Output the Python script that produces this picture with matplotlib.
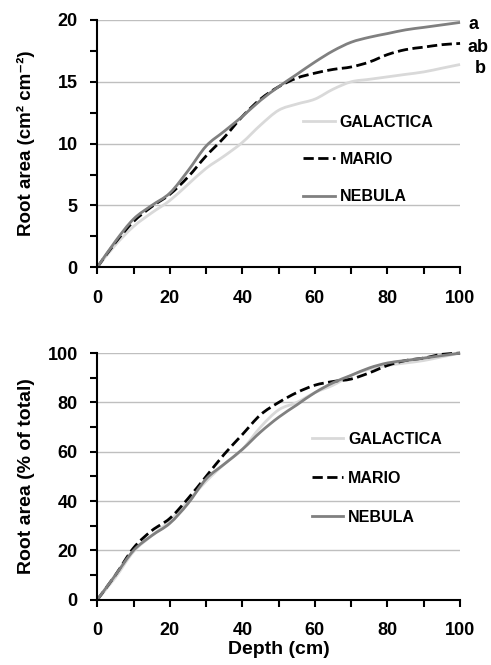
import matplotlib
matplotlib.use("Agg")
import matplotlib.pyplot as plt
import numpy as np
from matplotlib.ticker import MultipleLocator
from matplotlib.path import Path
from matplotlib.patches import PathPatch
from matplotlib.lines import Line2D

plt.rcParams['font.family'] = ['Liberation Sans', 'DejaVu Sans']
plt.rcParams['font.weight'] = 'bold'

# depth (cm)
depth = [0, 5, 10, 15, 20, 25, 30, 35, 40, 45, 50, 55, 60, 65, 70, 75, 80, 85, 90, 95, 100]

# root area (cm2 cm-2)
galactica_abs = [0, 1.8, 3.3, 4.4, 5.4, 6.7, 8.0, 9.0, 10.1, 11.5, 12.7, 13.2, 13.6, 14.4, 15.0, 15.2, 15.4, 15.6, 15.8, 16.1, 16.4]
mario_abs = [0, 2.0, 3.7, 4.9, 5.9, 7.3, 9.0, 10.5, 12.2, 13.6, 14.6, 15.3, 15.7, 16.0, 16.2, 16.6, 17.2, 17.6, 17.8, 18.0, 18.1]
nebula_abs = [0, 2.1, 3.9, 5.0, 6.0, 7.8, 9.8, 11.0, 12.2, 13.5, 14.6, 15.6, 16.6, 17.5, 18.2, 18.6, 18.9, 19.2, 19.4, 19.6, 19.8]

# root area (% of total)
galactica_pct = [0, 9, 19.5, 26, 32, 40, 48, 55, 61, 70, 77, 80, 84, 87, 91, 93.5, 95, 96, 97, 98.5, 100]
mario_pct = [0, 10, 21, 28, 33, 41, 50, 59, 67, 75, 80, 84, 87, 88.5, 89.5, 92, 95, 97, 98, 99.5, 100]
nebula_pct = [0, 10, 20, 26, 31, 39, 49, 55, 61, 68, 74, 79, 84, 88, 91, 94, 96, 97, 98, 99, 100]

sig_letters = ['a', 'ab', 'b']
sig_y = [19.6, 17.8, 16.1]

c_gal = '#d9d9d9'
c_mar = 'black'
c_neb = '#808080'

fig = plt.figure(figsize=(4.91, 6.65), dpi=100)
ax1 = fig.add_axes([0.198, 0.598, 0.739, 0.372])
ax2 = fig.add_axes([0.198, 0.098, 0.739, 0.371])


def smooth_line(ax, x, y, **kw):
    # excel-style smoothed line: cubic bezier through the points
    x = np.asarray(x, float)
    y = np.asarray(y, float)
    verts = [(x[0], y[0])]
    codes = [Path.MOVETO]
    n = len(x)
    for i in range(n - 1):
        i0 = max(i - 1, 0)
        i3 = min(i + 2, n - 1)
        c1 = (x[i] + (x[i + 1] - x[i0]) / 6, y[i] + (y[i + 1] - y[i0]) / 6)
        c2 = (x[i + 1] - (x[i3] - x[i]) / 6, y[i + 1] - (y[i3] - y[i]) / 6)
        verts += [c1, c2, (x[i + 1], y[i + 1])]
        codes += [Path.CURVE4] * 3
    patch = PathPatch(Path(verts, codes), fill=False, clip_on=False,
                      capstyle='butt', joinstyle='round', **kw)
    ax.add_patch(patch)


def style(ax, ymax, ymaj):
    ax.set_xlim(0, 100)
    ax.set_ylim(0, ymax)
    ax.xaxis.set_major_locator(MultipleLocator(20))
    ax.xaxis.set_minor_locator(MultipleLocator(10))
    ax.yaxis.set_major_locator(MultipleLocator(ymaj))
    ax.yaxis.set_minor_locator(MultipleLocator(ymaj / 2))
    ax.grid(axis='y', which='major', color='#bfbfbf', lw=1)
    ax.set_axisbelow(True)
    for s in ['top', 'right']:
        ax.spines[s].set_visible(False)
    for s in ['left', 'bottom']:
        ax.spines[s].set_linewidth(1.5)
    ax.tick_params(which='both', direction='out', width=1.5, labelsize=13)
    ax.tick_params(which='major', length=5)
    ax.tick_params(which='minor', length=5)
    ax.tick_params(axis='x', pad=11)
    ax.tick_params(axis='y', pad=9)
    ax.yaxis.set_label_coords(-0.172, 0.49)


handles = [Line2D([], [], color=c_gal, lw=2),
           Line2D([], [], color=c_mar, lw=2, ls='--'),
           Line2D([], [], color=c_neb, lw=2)]
labels = ['GALACTICA', 'MARIO', 'NEBULA']

smooth_line(ax1, depth, galactica_abs, color=c_gal, lw=2)
smooth_line(ax1, depth, mario_abs, color=c_mar, lw=2, ls='--')
smooth_line(ax1, depth, nebula_abs, color=c_neb, lw=2)
style(ax1, 20, 5)
ax1.set_ylabel('Root area (cm² cm⁻²)', fontsize=13.5, fontweight='bold')
ax1.legend(handles, labels, loc='center left', bbox_to_anchor=(0.527, 0.436), frameon=False,
           handlelength=2.0, handletextpad=0.3, labelspacing=1.4, prop={'weight': 'bold', 'size': 11.5})
for t, xv, yv in zip(sig_letters, [103.6, 105.0, 105.5], sig_y):
    ax1.text(xv, yv, t, ha='center', va='center', fontsize=13, fontweight='bold', clip_on=False)

smooth_line(ax2, depth, galactica_pct, color=c_gal, lw=2)
smooth_line(ax2, depth, mario_pct, color=c_mar, lw=2, ls='--')
smooth_line(ax2, depth, nebula_pct, color=c_neb, lw=2)
style(ax2, 100, 20)
ax2.set_ylabel('Root area (% of total)', fontsize=14, fontweight='bold')
ax2.set_xlabel('Depth (cm)', fontsize=14, fontweight='bold')
ax2.xaxis.set_label_coords(0.5, -0.165)
ax2.legend(handles, labels, loc='center left', bbox_to_anchor=(0.551, 0.492), frameon=False,
           handlelength=2.0, handletextpad=0.3, labelspacing=1.5, prop={'weight': 'bold', 'size': 11.5})

fig.savefig('out.png', dpi=100)
